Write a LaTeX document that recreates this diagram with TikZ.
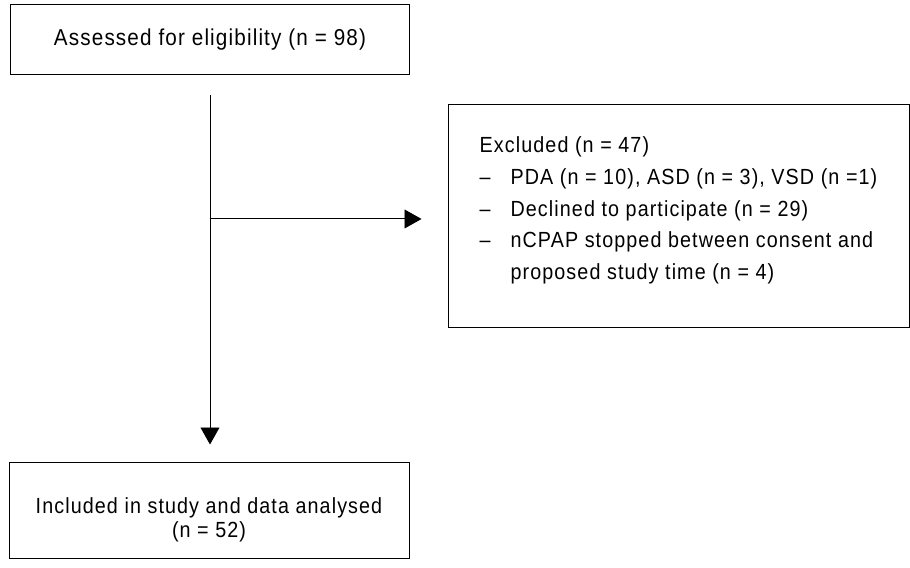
\documentclass[tikz,border=0pt]{standalone}
\usepackage{fontspec}
\setmainfont{Liberation Sans}[FakeStretch=0.9,LetterSpace=5]
\usetikzlibrary{arrows.meta}
\tikzset{
  flowbox/.style={draw, line width=0.026cm, inner sep=0pt, align=center},
  flowtext/.style={inner sep=0pt},
  flowarrow/.style={line width=0.026cm, -{Triangle[length=0.45cm,width=0.5cm]}}
}
\begin{document}
\begin{tikzpicture}
                    \useasboundingbox (0.000000,0.000000) rectangle (24.077000,15.028000);
                    {\fontsize{16.5}{20}\selectfont
                    
                    % Drawing box assessed
                    \node [flowbox, minimum width=10.583000cm, minimum height=1.852000cm, font=\fontsize{17.3}{20}\selectfont] (assess) at (5.556000,13.970000) {Assessed for eligibility (n = 98)};%
                    
                    % Drawing box excluded
                    \node [flowbox, minimum width=12.197000cm, minimum height=5.900000cm] (excl) at (17.952000,9.326000) {};%
                    \node [flowtext, align=left, font=\fontsize{16.5}{24}\selectfont] (excltext) at (17.952000,9.460000) {Excluded (n = 47)\\
                      \makebox[23.25pt][l]{–}PDA (n = 10), ASD (n = 3), VSD (n =1)\\
                      \makebox[23.25pt][l]{–}Declined to participate (n = 29)\\
                      \makebox[23.25pt][l]{–}nCPAP stopped between consent and\\
                      \hspace*{23.25pt}proposed study time (n = 4)};%
                    
                    % Drawing box included
                    \node [flowbox, minimum width=10.583000cm, minimum height=2.514000cm] (incl) at (5.530000,1.521000) {};%
                    \node [flowtext, align=center, font=\fontsize{16.5}{18}\selectfont] (incltext) at (5.530000,1.280000) {Included in study and data analysed\\(n = 52)};%
                    
                    % Marking split point
                    \coordinate (split) at (5.556000,9.234000);%
                    
                    % Drawing arrow assessed included
                    \draw [flowarrow, shorten <=0.529000cm, shorten >=0.476000cm] (assess.south) -- (assess.south |- incl.north);%
                    
                    % Drawing arrow split excluded
                    \draw [flowarrow, shorten >=0.688000cm] (split) -- (split -| excl.west);%
                    }
                \end{tikzpicture}
\end{document}
